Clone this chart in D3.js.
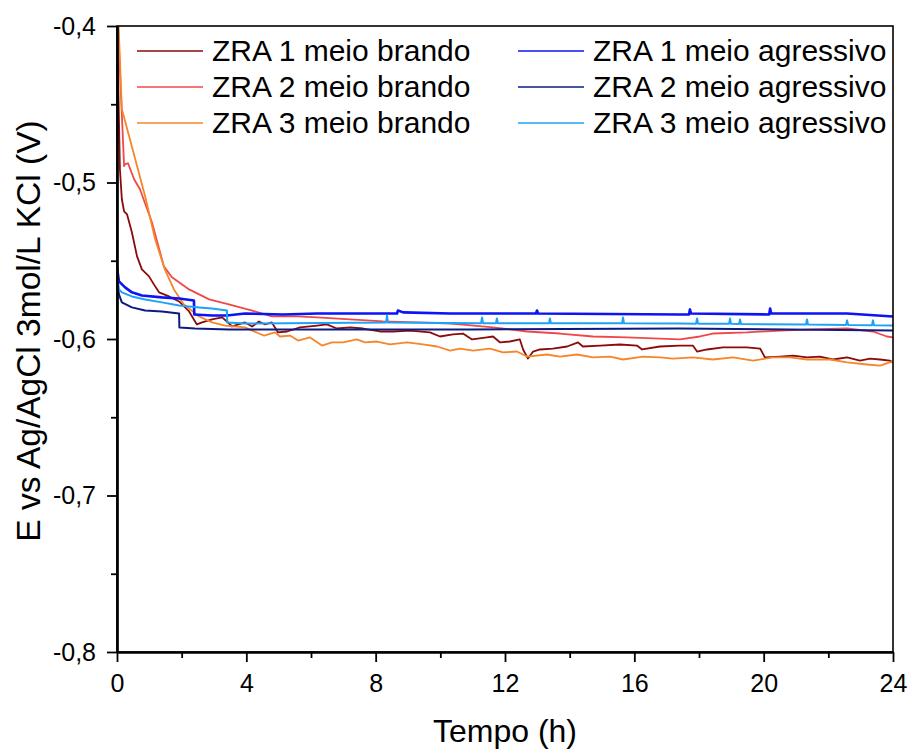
<!DOCTYPE html>
<html>
<head>
<meta charset="utf-8">
<script src="https://cdn.jsdelivr.net/npm/d3@7"></script>
<style>
	body { margin: 0; background: #fff; }
	text { font-family: 'Liberation Sans', Arial, sans-serif; fill: #000; }
</style>
</head>
<body>
<svg class="chart" width="911" height="751"></svg>
<script>
var width = 776,
	height = 626,
	marginLeft = 117,
	marginTop = 26;

//Data: [tempo (h), E (V)]
var zra1Brando = [[0,-0.395],[0.06,-0.4595],[0.09,-0.4915],[0.15,-0.5107],[0.22,-0.5184],[0.31,-0.5203],[0.46,-0.5318],[0.62,-0.5472],[0.77,-0.5555],[0.99,-0.56],[1.14,-0.5651],[1.3,-0.5702],[1.61,-0.5728],[1.92,-0.576],[2.23,-0.5824],[2.47,-0.5907],[2.63,-0.5894],[2.94,-0.5875],[3.25,-0.5862],[3.4,-0.5888],[3.56,-0.592],[3.96,-0.5894],[4.18,-0.592],[4.39,-0.5888],[4.58,-0.5907],[4.79,-0.5894],[4.98,-0.5958],[5.26,-0.5952],[5.66,-0.5926],[6.19,-0.5914],[6.49,-0.5907],[6.8,-0.5933],[7.21,-0.5926],[7.61,-0.5933],[8.13,-0.5952],[8.54,-0.5952],[9.06,-0.5946],[9.68,-0.5958],[9.99,-0.5984],[10.39,-0.5971],[10.7,-0.5965],[10.98,-0.6003],[11.44,-0.599],[11.63,-0.5984],[11.85,-0.6022],[12.15,-0.6016],[12.46,-0.6003],[12.56,-0.6067],[12.71,-0.6125],[12.87,-0.608],[13.08,-0.6067],[13.48,-0.6061],[13.92,-0.6048],[14.26,-0.6022],[14.41,-0.6048],[14.94,-0.6042],[15.56,-0.6035],[16.08,-0.6042],[16.24,-0.6067],[16.79,-0.6048],[17.41,-0.6042],[17.81,-0.6042],[17.94,-0.608],[18.25,-0.6067],[18.74,-0.6054],[19.48,-0.6054],[19.89,-0.6061],[20.04,-0.6118],[20.51,-0.6112],[20.91,-0.6106],[21.34,-0.6118],[21.74,-0.6112],[22.14,-0.6131],[22.58,-0.6118],[22.98,-0.6138],[23.29,-0.6125],[23.6,-0.6131],[23.9,-0.6138],[24,-0.615]];
var zra2Brando = [[0,-0.385],[0.03,-0.4],[0.22,-0.4896],[0.25,-0.4883],[0.34,-0.4877],[0.53,-0.4979],[0.71,-0.5043],[1.08,-0.5254],[1.45,-0.5536],[1.7,-0.5606],[2.23,-0.5683],[2.85,-0.5747],[3.46,-0.5779],[4.18,-0.5818],[4.79,-0.5856],[5.57,-0.5856],[6.19,-0.5862],[7.21,-0.5875],[8.23,-0.5888],[9.28,-0.5894],[10.3,-0.5901],[10.61,-0.5907],[11.63,-0.5926],[12.68,-0.5952],[13.7,-0.5965],[14.72,-0.5984],[15.77,-0.599],[16.79,-0.5997],[17.41,-0.6003],[18.03,-0.5984],[18.43,-0.5965],[19.48,-0.5958],[20.51,-0.5946],[21.53,-0.5939],[22.58,-0.5933],[23.38,-0.5952],[23.81,-0.5984],[24,-0.599]];
var zra3Brando = [[0,-0.385],[0.05,-0.4],[0.15,-0.4531],[0.87,-0.5088],[1.18,-0.5363],[1.48,-0.5555],[1.76,-0.5683],[2.07,-0.5779],[2.54,-0.5856],[2.94,-0.5894],[3.34,-0.5914],[3.96,-0.5926],[4.39,-0.5965],[4.55,-0.5978],[4.89,-0.5958],[5.04,-0.5984],[5.35,-0.5978],[5.6,-0.601],[5.97,-0.599],[6.34,-0.6042],[6.65,-0.6022],[6.99,-0.6022],[7.42,-0.6003],[7.67,-0.6022],[8.04,-0.6016],[8.44,-0.6035],[8.97,-0.6022],[9.46,-0.6035],[9.9,-0.6048],[10.3,-0.6074],[10.61,-0.6061],[11.01,-0.6074],[11.54,-0.6061],[11.94,-0.6086],[12.37,-0.608],[12.68,-0.6112],[13.3,-0.6099],[13.7,-0.6112],[14.23,-0.6099],[14.72,-0.6118],[15.25,-0.6112],[15.65,-0.6131],[16.27,-0.6112],[16.79,-0.6118],[17.2,-0.6125],[17.81,-0.6118],[18.43,-0.6131],[19.05,-0.6118],[19.67,-0.6138],[20.29,-0.6118],[20.81,-0.6118],[21.34,-0.6131],[22.05,-0.6131],[22.58,-0.615],[23.2,-0.6163],[23.6,-0.617],[23.9,-0.615],[24,-0.6144]];
var zra1Agressivo = [[0,-0.5542],[0.06,-0.5632],[0.25,-0.567],[0.46,-0.5702],[0.77,-0.5722],[1.39,-0.5734],[1.92,-0.5741],[2.38,-0.5754],[2.39,-0.5843],[2.94,-0.585],[3.4,-0.585],[3.96,-0.5837],[5.13,-0.5843],[6.19,-0.5837],[8.66,-0.5837],[8.69,-0.5818],[8.85,-0.583],[10.3,-0.5837],[12.96,-0.5837],[12.99,-0.5818],[13.02,-0.5837],[17.41,-0.5843],[17.69,-0.5843],[17.72,-0.5811],[17.75,-0.5837],[20.17,-0.5843],[20.2,-0.5805],[20.23,-0.5837],[22.58,-0.5837],[24,-0.5856]];
var zra2Agressivo = [[0,-0.5619],[0.06,-0.5715],[0.15,-0.5766],[0.46,-0.5798],[0.87,-0.5818],[1.39,-0.5824],[1.92,-0.5837],[1.93,-0.5926],[2.41,-0.5933],[3.46,-0.5939],[10.92,-0.5939],[17.41,-0.5933],[24,-0.5946]];
var zra3Agressivo = [[0,-0.5587],[0.06,-0.5683],[0.15,-0.5702],[0.46,-0.5728],[0.87,-0.5747],[1.39,-0.5766],[1.92,-0.5786],[2.54,-0.5798],[2.94,-0.5805],[3.4,-0.5818],[3.41,-0.5894],[3.96,-0.5901],[8.32,-0.5894],[8.35,-0.585],[8.38,-0.5894],[11.26,-0.5899],[11.29,-0.5862],[11.32,-0.5899],[11.72,-0.5899],[11.75,-0.5869],[11.78,-0.5899],[13.36,-0.59],[13.39,-0.5869],[13.42,-0.59],[15.62,-0.59],[15.65,-0.5862],[15.68,-0.59],[17.41,-0.5901],[17.91,-0.5902],[17.94,-0.5869],[17.97,-0.5902],[18.93,-0.5903],[18.96,-0.5869],[18.99,-0.5903],[19.24,-0.5904],[19.27,-0.5875],[19.3,-0.5904],[21.31,-0.5907],[21.34,-0.5875],[21.37,-0.5907],[22.55,-0.591],[22.58,-0.5881],[22.61,-0.591],[23.35,-0.5912],[23.38,-0.5881],[23.41,-0.5912],[24,-0.5914]];

var seriesNames = ['ZRA 1 meio brando','ZRA 2 meio brando','ZRA 3 meio brando','ZRA 1 meio agressivo','ZRA 2 meio agressivo','ZRA 3 meio agressivo'];
var seriesData = [zra1Brando, zra2Brando, zra3Brando, zra1Agressivo, zra2Agressivo, zra3Agressivo];
var seriesColors = ['#8b0a0a','#f04848','#f5862a','#0a14f5','#0c1a82','#1ea2f8'];
var seriesWidths = [1.8,1.8,1.8,2.6,2,2];

var xTicks = [0,4,8,12,16,20,24],
	xMinor = [2,6,10,14,18,22],
	yTicks = [-0.8,-0.7,-0.6,-0.5,-0.4],
	yMinor = [-0.75,-0.65,-0.55,-0.45];

//Scales
var xScale = d3.scaleLinear().domain([0,24]).range([0,width]);
var yScale = d3.scaleLinear().domain([-0.8,-0.4]).range([height,0]);

var chart = d3.select('.chart')
			.append('g')
			.attr('transform','translate('+marginLeft+','+marginTop+')');

chart.append('clipPath')
	.attr('id','plotClip')
	.append('rect')
	.attr('width',width)
	.attr('height',height);

//Lines
var lineGen = d3.line()
			.x(d=>xScale(d[0]))
			.y(d=>yScale(d[1]));

chart.append('g')
	.attr('clip-path','url(#plotClip)')
	.selectAll('path')
	.data(seriesData)
	.enter()
	.append('path')
	.attr('d',lineGen)
	.attr('fill','none')
	.attr('stroke',(d,i)=>seriesColors[i])
	.attr('stroke-width',(d,i)=>seriesWidths[i])
	.attr('stroke-linejoin','round');

//Frame
chart.append('rect')
	.attr('width',width)
	.attr('height',height)
	.attr('fill','none')
	.attr('stroke','#000')
	.attr('stroke-width',1.6);

//Axes
var fmt = d=>d.toFixed(1).replace('.',',');

chart.append('g')
	.attr('transform','translate(0,'+height+')')
	.call(d3.axisBottom(xScale).tickValues(xTicks).tickSize(10).tickPadding(12).tickSizeOuter(0));
chart.append('g')
	.attr('transform','translate(0,'+height+')')
	.call(d3.axisBottom(xScale).tickValues(xMinor).tickSize(6).tickFormat('').tickSizeOuter(0));

chart.append('g')
	.call(d3.axisLeft(yScale).tickValues(yTicks).tickSize(10).tickPadding(11).tickFormat(fmt).tickSizeOuter(0));
chart.append('g')
	.call(d3.axisLeft(yScale).tickValues(yMinor).tickSize(6).tickFormat('').tickSizeOuter(0));

chart.selectAll('.domain').attr('stroke-width',2.2);
chart.selectAll('.tick line').attr('stroke-width',1.8);
chart.selectAll('.tick text')
	.attr('font-size','25px')
	.attr('font-family','Liberation Sans, Arial, sans-serif')
	.attr('fill','#000');

//Axis titles
chart.append('text')
	.attr('text-anchor','middle')
	.attr('x',width/2)
	.attr('y',height+90)
	.attr('font-size','32px')
	.text('Tempo (h)');

chart.append('text')
	.attr('text-anchor','middle')
	.attr('transform','translate(-77,'+(height/2-8)+') rotate(-90)')
	.attr('font-size','33.5px')
	.text('E vs Ag/AgCl 3mol/L KCl (V)');

//Legend
var legend = chart.selectAll('.legend')
	.data(seriesNames)
	.enter()
	.append('g')
	.attr('class','legend')
	.attr('transform',(d,i)=>'translate('+(i<3 ? 20 : 401)+','+(25+(i%3)*36)+')');

legend.append('line')
	.attr('x1',0)
	.attr('x2',66)
	.attr('stroke',(d,i)=>seriesColors[i])
	.attr('stroke-width',1.3);

legend.append('text')
	.attr('x',75)
	.attr('y',10)
	.attr('font-size','30px')
	.text(d=>d);
</script>
</body>
</html>
